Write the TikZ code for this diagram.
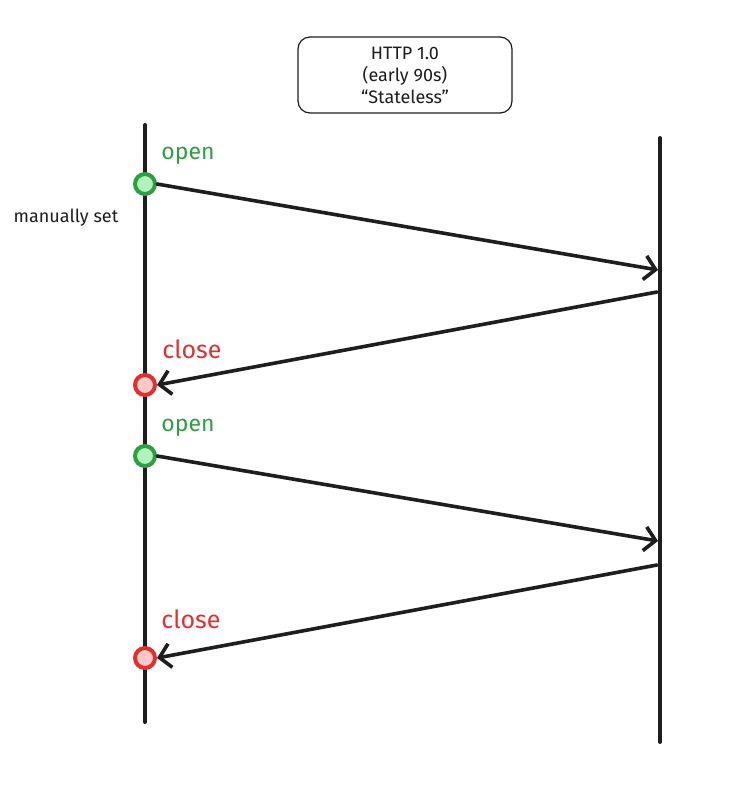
\documentclass[tikz,border=0pt]{standalone}
\usepackage{fontspec}
\setmainfont{Fira Sans}
\usetikzlibrary{arrows.meta}
\definecolor{ogreen}{HTML}{2F9E44}
\definecolor{ogreenfill}{HTML}{B2F2BB}
\definecolor{cred}{HTML}{E03131}
\definecolor{credfill}{HTML}{FFC9C9}
\definecolor{ink}{HTML}{1E1E1E}
\tikzset{
  x=1pt, y=-1pt,
  life/.style={draw=ink, line width=4pt, line cap=round},
  msg/.style={draw=ink, line width=3.6pt, line cap=round, -{Straight Barb[length=11pt,width=24pt,line width=3.6pt]}},
  opendot/.style={circle, draw=ogreen, fill=ogreenfill, line width=4pt, minimum size=20pt, inner sep=0pt},
  closedot/.style={circle, draw=cred, fill=credfill, line width=4pt, minimum size=20pt, inner sep=0pt},
  openlbl/.style={text=ogreen, font=\fontsize{23}{26}\selectfont},
  closelbl/.style={text=cred, font=\fontsize{25}{28}\selectfont},
  titlebox/.style={draw=ink, line width=1.2pt, rounded corners=12pt, minimum width=214pt, minimum height=76pt, align=center, font=\fontsize{18}{22}\selectfont, text=ink},
}
\begin{document}
\begin{tikzpicture}
\useasboundingbox (0,0) rectangle (738,785);
\fill[white] (0,0) rectangle (738,785);
% title
\node[titlebox] (title) at (405,75) {HTTP 1.0\\(early 90s)\\“Stateless”};
% lifelines
\coordinate (lt) at (145,125);
\coordinate (lb) at (145,722);
\coordinate (rt) at (660,138);
\coordinate (rb) at (660,742);
\draw[life] (lt) -- (lb);
\draw[life] (rt) -- (rb);
% dots
\node[opendot] (o1) at (145,184) {};
\node[closedot] (c1) at (145,385) {};
\node[opendot] (o2) at (145,456) {};
\node[closedot] (c2) at (145,658) {};
% labels
\node[openlbl] (lo1) at (188,156) {open};
\node[closelbl] (lc1) at (192,349) {close};
\node[openlbl] (lo2) at (188,428) {open};
\node[closelbl] (lc2) at (191,619) {close};
\node[font=\fontsize{18}{20}\selectfont, text=ink] (man) at (66,218) {manually set};
% message endpoints on right lifeline
\coordinate (r1) at (658,270);
\coordinate (r2) at (657,292);
\coordinate (r3) at (658,541);
\coordinate (r4) at (657,565);
% messages
\draw[msg] (o1.east) -- (r1);
\draw[msg] (r2) -- (c1.east);
\draw[msg] (o2.east) -- (r3);
\draw[msg] (r4) -- (c2.east);
\end{tikzpicture}
\end{document}
